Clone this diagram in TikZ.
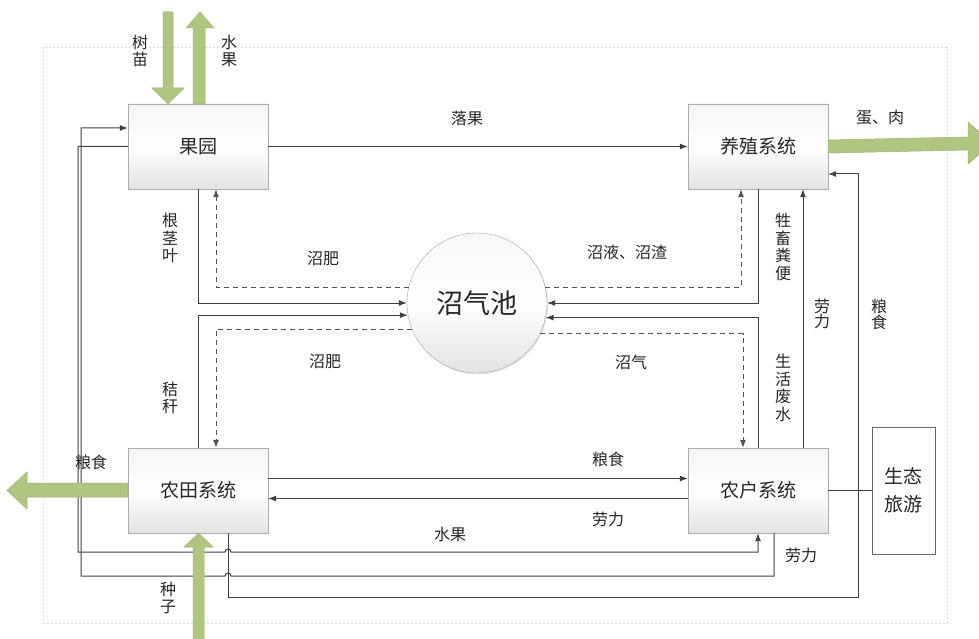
\documentclass[tikz,border=0pt]{standalone}
\usepackage{fontspec}
\newfontfamily\cjk{Noto Sans CJK SC}
\usetikzlibrary{arrows.meta,shadows,calc}
\definecolor{ln}{HTML}{404040}
\definecolor{grn}{RGB}{176,198,128}
\definecolor{grnd}{RGB}{155,180,105}
\definecolor{frame}{HTML}{D2DAE2}
\tikzset{
  box/.style={draw=gray!65, top color=gray!8, bottom color=gray!22, middle color=white,
     minimum width=140pt, minimum height=85pt, inner sep=0pt,
     font=\cjk\fontsize{19}{19}\selectfont, text=black!85,
     drop shadow={shadow xshift=1.2pt, shadow yshift=-1.2pt, opacity=0.25}},
  pool/.style={circle, draw=gray!70, top color=gray!6, bottom color=gray!22, middle color=white,
     minimum size=140pt, inner sep=0pt, font=\cjk\fontsize{27}{27}\selectfont, text=black!85,
     drop shadow={shadow xshift=1.2pt, shadow yshift=-1.2pt, opacity=0.2}},
  lbl/.style={font=\cjk\fontsize{16}{17}\selectfont, text=black!85, inner sep=0pt, align=center},
  vlbl/.style={font=\cjk\fontsize{16}{17.5}\selectfont, text=black!85, inner sep=0pt, align=center},
  arr/.style={draw=ln, line width=1pt, -{Latex[length=8pt,width=6pt]}},
  con/.style={draw=ln, line width=1pt},
  darr/.style={draw=ln!90, line width=1pt, dash pattern=on 5pt off 4pt, -{Latex[length=8pt,width=6pt]}},
  garrow/.style={fill=grn, draw=grnd, line width=0.5pt}
}
\begin{document}
\begin{tikzpicture}[x=1pt,y=-1pt]
\useasboundingbox (0,0) rectangle (979,639);
\fill[white] (0,0) rectangle (979,639);
\draw[frame, line width=0.6pt, dash pattern=on 2pt off 2pt] (43,47) rectangle (947,623);

% nodes
\node[box] (gy) at (198,146.5) {果园};
\node[box] (yz) at (758,146.5) {养殖系统};
\node[box] (nt) at (198,490.5) {农田系统};
\node[box] (nh) at (758,490.5) {农户系统};
\node[draw=ln!80, fill=white, line width=1pt, minimum width=63pt, minimum height=127pt, inner sep=0pt,
      font=\cjk\fontsize{19}{28}\selectfont, text=black!85, align=center] (st) at (903.5,490.5) {生态\\旅游};
\node[pool] (pool) at (477,303) {沼气池};

% connectors top/left
\draw[arr] (gy.east) -- (yz.west);
\draw[arr] (gy.south) |- (pool.west);
\draw[darr] (pool.167.6) -| ([xshift=18pt]gy.south);
\draw[arr] (nt.north) |- (pool.190.7);
\draw[darr] (pool.202.7) -| ([xshift=18pt]nt.north);
% right
\draw[arr] (yz.south) |- (pool.east);
\draw[darr] (pool.13.2) -| ([xshift=-17pt]yz.south);
\draw[arr] (nh.north) |- (pool.348.5);
\draw[darr] (pool.334.6) -| ([xshift=-15pt]nh.north);
\draw[arr] ([xshift=45pt]nh.north) -- ([xshift=45pt]yz.south);
\draw[con] (nh.east) -- (st.west);
% middle horizontal
\draw[arr] ([yshift=12pt]nt.east) -- ([yshift=12pt]nh.west);
\draw[arr] ([yshift=-8pt]nh.west) -- ([yshift=-8pt]nt.east);
% loops
\draw[arr] (gy.west) -- (78,146.5) -- (78,552) -- (225,552) arc[start angle=180,end angle=0,radius=3pt] -- (758,552) -- (nh.south);
\draw[arr] ([xshift=16pt]nh.south) -- (774,576) -- (231,576) arc[start angle=0,end angle=180,radius=3pt] -- (81,576) -- (81,128) -- ([yshift=18.5pt]gy.west);
\draw[arr] ([xshift=30pt]nt.south) -- (228,597) -- (858,597) -- (858,174) -- ([yshift=-27.5pt]yz.east);

% green arrows
\draw[garrow] (163,12) -- (173,12) -- (173,88) -- (184,88) -- (gy.north -| 168,0) -- (152,88) -- (163,88) -- cycle;
\draw[garrow] (193,104) -- (193,28) -- (186,28) -- (200,12) -- (214,28) -- (205,28) -- (205,104) -- cycle;
\draw[garrow] (yz.east |- 0,140) -- (968,137) -- (968,122) -- (992,143) -- (968,164) -- (968,150) -- (yz.east |- 0,153) -- cycle;
\draw[garrow] (nt.west |- 0,483) -- (27,483) -- (27,472) -- (7,490.5) -- (27,509) -- (27,497) -- (nt.west |- 0,497) -- cycle;
\draw[garrow] (193,650) -- (193,547) -- (184,547) -- (nt.south -| 198.5,0) -- (213,547) -- (204,547) -- (204,650) -- cycle;

% labels
\node[lbl] (l1) at (467,118) {落果};
\node[lbl] (l2) at (323,259) {沼肥};
\node[lbl] (l3) at (325,362) {沼肥};
\node[lbl] (l4) at (627,252) {沼液、沼渣};
\node[lbl] (l5) at (631,362) {沼气};
\node[vlbl] (l6) at (170,238) {根\\茎\\叶};
\node[vlbl] (l7) at (170,398) {秸\\秆};
\node[vlbl] (l8) at (783,247) {牲\\畜\\粪\\便};
\node[vlbl] (l9) at (783,388) {生\\活\\废\\水};
\node[font=\cjk\fontsize{16}{14}\selectfont, text=black!85, inner sep=0pt, align=center] (l10) at (822,314) {劳\\力};
\node[font=\cjk\fontsize{16}{14}\selectfont, text=black!85, inner sep=0pt, align=center] (l11) at (879,314) {粮\\食};
\node[vlbl] (l12) at (140,51) {树\\苗};
\node[vlbl] (l13) at (229,51) {水\\果};
\node[lbl] (l14) at (880,118) {蛋、肉};
\node[lbl] (l15) at (91,462) {粮食};
\node[lbl] (l16) at (608,459) {粮食};
\node[lbl] (l17) at (608,519) {劳力};
\node[lbl] (l18) at (450,534) {水果};
\node[lbl] (l19) at (801,555) {劳力};
\node[vlbl] (l20) at (168,598) {种\\子};
\end{tikzpicture}
\end{document}
